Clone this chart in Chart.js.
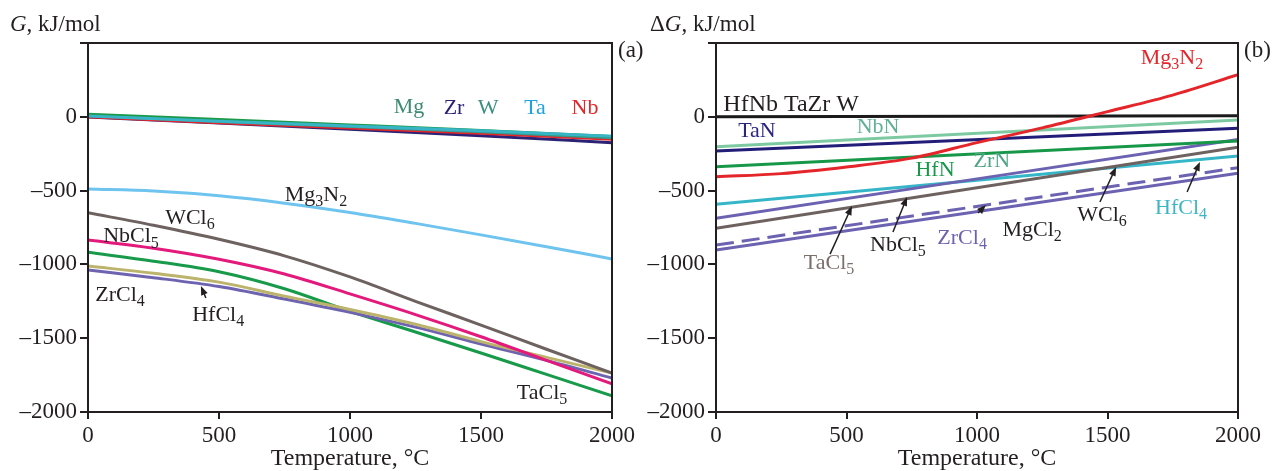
<!DOCTYPE html>
<html>
<head>
<meta charset="utf-8">
<script src="https://cdn.jsdelivr.net/npm/chart.js@4.4.1/dist/chart.umd.min.js"></script>
<style>
  html, body { margin: 0; padding: 0; background: #fff; }
  #wrap { position: relative; width: 1274px; height: 471px; overflow: hidden; }
  canvas { position: absolute; top: 0; }
  #chartA { left: 0; }
  #chartB { left: 645px; }
</style>
</head>
<body>
<div id="wrap">
  <canvas id="chartA" width="645" height="471"></canvas>
  <canvas id="chartB" width="629" height="471"></canvas>
</div>
<script>
// Temperatures, °C
const temps = [0, 250, 500, 750, 1000, 1250, 1500, 1750, 2000];
const tempsCoarse = [0, 500, 1000, 1500, 2000];
const tempEnds = [0, 2000];

// (a) G, kJ/mol - metals (coarse grid)
const gTa = [6, -30, -62, -95, -132];
const gMg = [18, -18, -55, -93, -134];
const gW = [8, -32, -66, -102, -142];
const gNb = [0, -40, -76, -112, -152];
const gZr = [-2, -42, -84, -128, -175];

// (a) G, kJ/mol - compounds (full grid)
const gMg3N2 = [-489, -503, -535, -585, -648, -722, -800, -880, -963];
const gWCl6 = [-650, -735, -830, -942, -1085, -1250, -1411, -1575, -1736];
const gNbCl5 = [-835, -890, -965, -1065, -1200, -1340, -1490, -1650, -1810];
const gTaCl5 = [-918, -978, -1050, -1165, -1318, -1458, -1600, -1745, -1890];
const gHfCl4 = [-1011, -1060, -1120, -1215, -1305, -1405, -1523, -1630, -1736];
const gZrCl4 = [-1038, -1090, -1150, -1235, -1325, -1425, -1539, -1650, -1770];

// (b) ΔG, kJ/mol
const dgMg3N2 = [-406, -385, -340, -280, -175, -75, 35, 147, 285];
const dgMetals = [0, 7];
const dgNbN = [-203, -22];
const dgTaN = [-232, -78];
const dgHfN = [-338, -164];
const dgNbCl5 = [-688, -153];
const dgWCl6 = [-756, -207];
const dgHfCl4 = [-593, -266];
const dgMgCl2 = [-869, -345];
const dgZrCl4 = [-902, -383];

// axis ticks
const yMin = -2000;
const yMax = 500;
const yStep = 500;
const xMin = 0;
const xMax = 2000;
const xStep = 500;

const INK = '#231f20';
const FONT = "'Liberation Serif', 'DejaVu Serif', serif";

function pts(xs, ys) {
  return xs.map((x, i) => ({ x: x, y: ys[i] }));
}

function line(label, xs, ys, color, extra) {
  return Object.assign({
    label: label,
    data: pts(xs, ys),
    borderColor: color,
    backgroundColor: color,
    borderWidth: 3,
    pointRadius: 0,
    fill: false,
    cubicInterpolationMode: 'monotone'
  }, extra || {});
}

// split 'Mg_3N_2' into normal / subscript runs
function splitSub(text) {
  const parts = [];
  let i = 0;
  while (i < text.length) {
    if (text[i] === '_') {
      parts.push({ s: text[i + 1], sub: true });
      i += 2;
    } else {
      let j = i;
      while (j < text.length && text[j] !== '_') j++;
      parts.push({ s: text.slice(i, j), sub: false });
      i = j;
    }
  }
  return parts;
}

function drawRich(ctx, text, x, y, color, align, size) {
  const parts = splitSub(text);
  const big = size + 'px ' + FONT;
  const small = Math.round(size * 0.72) + 'px ' + FONT;
  let total = 0;
  parts.forEach((p) => {
    ctx.font = p.sub ? small : big;
    p.w = ctx.measureText(p.s).width;
    total += p.w;
  });
  let cx = x;
  if (align === 'center') cx = x - total / 2;
  else if (align === 'right') cx = x - total;
  ctx.fillStyle = color;
  ctx.textAlign = 'left';
  ctx.textBaseline = 'middle';
  parts.forEach((p) => {
    ctx.font = p.sub ? small : big;
    ctx.fillText(p.s, cx, p.sub ? y + 7 : y);
    cx += p.w;
  });
}

function drawArrow(ctx, x0, y0, x1, y1) {
  const ang = Math.atan2(y1 - y0, x1 - x0);
  const len = 9;
  const half = 3.5;
  ctx.strokeStyle = INK;
  ctx.fillStyle = INK;
  ctx.lineWidth = 1.5;
  ctx.beginPath();
  ctx.moveTo(x0, y0);
  ctx.lineTo(x1 - Math.cos(ang) * len * 0.6, y1 - Math.sin(ang) * len * 0.6);
  ctx.stroke();
  ctx.beginPath();
  ctx.moveTo(x1, y1);
  ctx.lineTo(x1 - Math.cos(ang) * len + Math.sin(ang) * half, y1 - Math.sin(ang) * len - Math.cos(ang) * half);
  ctx.lineTo(x1 - Math.cos(ang) * len - Math.sin(ang) * half, y1 - Math.sin(ang) * len + Math.cos(ang) * half);
  ctx.closePath();
  ctx.fill();
}

const decorPlugin = {
  id: 'decor',
  afterDraw(chart, args, opts) {
    const { ctx, chartArea: a } = chart;
    const xs = chart.scales.x;
    const ys = chart.scales.y;
    ctx.save();

    ctx.strokeStyle = INK;
    ctx.lineWidth = 2;
    ctx.strokeRect(a.left, a.top, a.right - a.left, a.bottom - a.top);

    (opts.arrows || []).forEach((ar) => {
      drawArrow(ctx, xs.getPixelForValue(ar.from[0]), ys.getPixelForValue(ar.from[1]),
        xs.getPixelForValue(ar.to[0]), ys.getPixelForValue(ar.to[1]));
    });

    (opts.labels || []).forEach((l) => {
      drawRich(ctx, l.text, xs.getPixelForValue(l.t), ys.getPixelForValue(l.v),
        l.color, l.align || 'center', l.size || 22);
    });

    // y title: italic symbol + units
    ctx.textBaseline = 'middle';
    ctx.textAlign = 'left';
    ctx.fillStyle = INK;
    let tx = a.left + opts.titleOffset;
    const ty = a.top - 18;
    ctx.font = '23px ' + FONT;
    if (opts.titlePrefix) {
      ctx.fillText(opts.titlePrefix, tx, ty);
      tx += ctx.measureText(opts.titlePrefix).width;
    }
    ctx.font = 'italic 23px ' + FONT;
    ctx.fillText('G', tx, ty);
    tx += ctx.measureText('G').width;
    ctx.font = '23px ' + FONT;
    ctx.fillText(', kJ/mol', tx, ty);

    // panel tag
    ctx.fillText(opts.tag, a.right + 6, a.top + 8);

    // x title
    ctx.textAlign = 'center';
    ctx.font = '24px ' + FONT;
    ctx.fillText('Temperature, \u00B0C', (a.left + a.right) / 2, a.bottom + 47);

    ctx.restore();
  }
};

function makeOptions(yWidth, rightPad, decor) {
  return {
    responsive: false,
    animation: false,
    layout: { padding: { top: 43, right: rightPad, left: 0, bottom: 0 } },
    plugins: {
      legend: { display: false },
      tooltip: { enabled: false },
      decor: decor
    },
    scales: {
      x: {
        type: 'linear',
        min: xMin,
        max: xMax,
        ticks: {
          stepSize: xStep,
          color: INK,
          font: { family: FONT, size: 23 },
          padding: 3,
          maxRotation: 0,
          callback: (v) => String(v)
        },
        grid: { drawOnChartArea: false, drawTicks: true, tickLength: 7, color: INK, lineWidth: 2 },
        border: { color: INK, width: 2 },
        afterFit: (scale) => { scale.height = 59; }
      },
      y: {
        min: yMin,
        max: yMax,
        ticks: {
          stepSize: yStep,
          color: INK,
          font: { family: FONT, size: 23 },
          padding: 3,
          callback: (v) => (v === yMax ? '' : (v < 0 ? '\u2013' + Math.abs(v) : String(v)))
        },
        grid: { drawOnChartArea: false, drawTicks: true, tickLength: 8, color: INK, lineWidth: 2 },
        border: { color: INK, width: 2 },
        afterFit: (scale) => { scale.width = yWidth; }
      }
    }
  };
}

const labelsA = [
  { text: 'Mg', t: 1225, v: 66, color: '#3d8b74' },
  { text: 'Zr', t: 1397, v: 60, color: '#2b2275' },
  { text: 'W', t: 1527, v: 60, color: '#3a9080' },
  { text: 'Ta', t: 1706, v: 60, color: '#1fa3df' },
  { text: 'Nb', t: 1897, v: 60, color: '#e4262b' },
  { text: 'Mg_3N_2', t: 870, v: -530, color: INK },
  { text: 'WCl_6', t: 389, v: -686, color: INK },
  { text: 'NbCl_5', t: 164, v: -810, color: INK },
  { text: 'ZrCl_4', t: 122, v: -1207, color: INK },
  { text: 'HfCl_4', t: 497, v: -1343, color: INK },
  { text: 'TaCl_5', t: 1733, v: -1871, color: INK }
];

const arrowsA = [
  { from: [450, -1228], to: [431, -1147] }
];

const labelsB = [
  { text: 'HfNb TaZr W', t: 28, v: 80, color: INK, align: 'left', size: 24 },
  { text: 'TaN', t: 157, v: -101, color: '#2b2582' },
  { text: 'NbN', t: 621, v: -69, color: '#5fb394' },
  { text: 'HfN', t: 839, v: -360, color: '#169848' },
  { text: 'ZrN', t: 1057, v: -300, color: '#4fa488' },
  { text: 'TaCl_5', t: 433, v: -990, color: '#7a6e6a' },
  { text: 'NbCl_5', t: 697, v: -869, color: INK },
  { text: 'ZrCl_4', t: 943, v: -821, color: '#6c62b2' },
  { text: 'MgCl_2', t: 1211, v: -767, color: INK },
  { text: 'WCl_6', t: 1479, v: -665, color: INK },
  { text: 'HfCl_4', t: 1782, v: -618, color: '#3ab6c6' },
  { text: 'Mg_3N_2', t: 1747, v: 400, color: '#e4262b' }
];

const arrowsB = [
  { from: [437, -930], to: [521, -605] },
  { from: [678, -780], to: [732, -543] },
  { from: [1004, -652], to: [1034, -598] },
  { from: [1471, -577], to: [1533, -340] },
  { from: [1805, -509], to: [1854, -306] }
];

new Chart(document.getElementById('chartA'), {
  type: 'line',
  data: {
    datasets: [
      line('Ta', tempsCoarse, gTa, '#37b4c6'),
      line('Mg', tempsCoarse, gMg, '#1b9a4b'),
      line('W', tempsCoarse, gW, '#3a9688'),
      line('Nb', tempsCoarse, gNb, '#e4262b'),
      line('Zr', tempsCoarse, gZr, '#2b2275'),
      line('Mg3N2', temps, gMg3N2, '#6ec4ef'),
      line('WCl6', temps, gWCl6, '#6d6260'),
      line('NbCl5', temps, gNbCl5, '#e4197c'),
      line('HfCl4', temps, gHfCl4, '#bcb36c'),
      line('ZrCl4', temps, gZrCl4, '#6e63b1'),
      line('TaCl5', temps, gTaCl5, '#179a4a')
    ]
  },
  options: makeOptions(88, 33, { labels: labelsA, arrows: arrowsA, tag: '(a)', titleOffset: -78, titlePrefix: '' }),
  plugins: [decorPlugin]
});

new Chart(document.getElementById('chartB'), {
  type: 'line',
  data: {
    datasets: [
      line('Mg3N2', temps, dgMg3N2, '#e4262b'),
      line('Hf, Nb, Ta, Zr, W', tempEnds, dgMetals, '#1a1a1a'),
      line('NbN', tempEnds, dgNbN, '#7dcaa2'),
      line('TaN', tempEnds, dgTaN, '#221d78'),
      line('HfN', tempEnds, dgHfN, '#169848'),
      line('NbCl5', tempEnds, dgNbCl5, '#6c62b2'),
      line('WCl6', tempEnds, dgWCl6, '#6d6260'),
      line('HfCl4', tempEnds, dgHfCl4, '#35b6c8'),
      line('MgCl2', tempEnds, dgMgCl2, '#6c62b2', { borderDash: [18, 8] }),
      line('ZrCl4', tempEnds, dgZrCl4, '#6c62b2')
    ]
  },
  options: makeOptions(71, 36, { labels: labelsB, arrows: arrowsB, tag: '(b)', titleOffset: -66, titlePrefix: '\u0394' }),
  plugins: [decorPlugin]
});
</script>
</body>
</html>
